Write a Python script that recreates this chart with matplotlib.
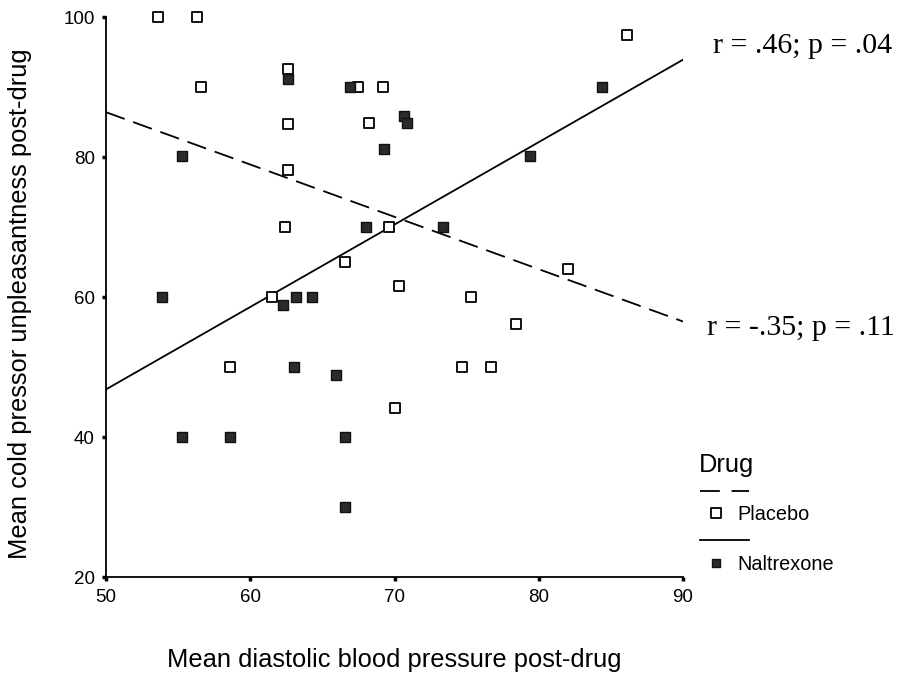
import numpy as np
import matplotlib
matplotlib.use("Agg")
import matplotlib.pyplot as plt
from matplotlib.markers import MarkerStyle
from matplotlib.lines import Line2D

plt.rcParams["font.family"] = ["Liberation Sans", "DejaVu Sans"]

# placebo (open squares)
placebo_x = [53.6, 56.3, 56.6, 62.6, 62.6, 62.6, 67.5, 69.2, 68.2, 86.1, 62.4,
             69.65, 66.6, 70.3, 61.5, 58.6, 75.3, 82.0, 78.4, 74.7, 76.7, 70.05]
placebo_y = [100, 100, 90, 92.6, 84.7, 78.2, 90, 90, 84.8, 97.5, 70,
             70, 65, 61.6, 60, 50, 60, 64, 56.2, 50, 50, 44.1]

# naltrexone (filled)
naltrexone_x = [62.6, 66.9, 70.65, 70.9, 69.25, 55.3, 84.4, 79.4, 68.0, 53.9,
                62.3, 63.2, 64.3, 63.0, 65.95, 73.35, 55.3, 58.6, 66.6, 66.6]
naltrexone_y = [91.2, 90, 85.9, 84.8, 81.2, 80.1, 90, 80.1, 70, 60,
                58.9, 60, 60, 50, 48.8, 70, 40, 40, 40, 30]

# fit lines (value at x = 50 and x = 90)
fit_x = [50, 90]
placebo_fit = [86.4, 56.5]
naltrexone_fit = [46.8, 93.9]

W, H = 898, 677
fig = plt.figure(figsize=(W / 100, H / 100), dpi=100)
ax = fig.add_axes([106 / W, 1 - 577 / H, (683 - 106) / W, (577 - 17) / H])

sq = MarkerStyle("s", joinstyle="round")
ax.plot(fit_x, placebo_fit, color="black", linewidth=1.3, dashes=(11, 5))
ax.plot(fit_x, naltrexone_fit, color="black", linewidth=1.3)
ax.plot(placebo_x, placebo_y, linestyle="none", marker=sq, markersize=7.5,
        markerfacecolor="white", markeredgecolor="black", markeredgewidth=1.3,
        clip_on=False, zorder=3)
ax.plot(naltrexone_x, naltrexone_y, linestyle="none", marker=sq, markersize=7.2,
        markerfacecolor="#2b2b2b", markeredgecolor="#111111", markeredgewidth=1.0,
        clip_on=False, zorder=3)

ax.set_xlim(50, 90)
ax.set_ylim(20, 100)
ax.set_xticks([50, 60, 70, 80, 90])
ax.set_yticks([20, 40, 60, 80, 100])
ax.spines["right"].set_visible(False)
ax.spines["top"].set_visible(False)
ax.spines["left"].set_linewidth(1.3)
ax.spines["bottom"].set_linewidth(1.3)
ax.tick_params(direction="out", length=3, width=2.5, labelsize=13.5)
ax.tick_params(axis="y", pad=5)
ax.tick_params(axis="x", pad=6)

ax.set_xlabel("Mean diastolic blood pressure post-drug", fontsize=18.4, labelpad=30)
ax.set_ylabel("Mean cold pressor unpleasantness post-drug", fontsize=18.4)
ax.yaxis.set_label_coords(-0.128, 0.4875)

# fit annotations
fig.text(713 / W, 1 - 46 / H, "r = .46; p = .04", family="Liberation Serif",
         fontsize=21.5, va="center", ha="left")
fig.text(707 / W, 1 - 328 / H, "r = -.35; p = .11", family="Liberation Serif",
         fontsize=21.5, va="center", ha="left")

# legend drawn by hand
fig.text(699 / W, 1 - 465 / H, "Drug", fontsize=18.3, va="center", ha="left")
fig.add_artist(Line2D([700 / W, 749 / W], [1 - 491 / H] * 2, color="black",
                      linewidth=1.3, dashes=(11, 6.5), transform=fig.transFigure))
fig.add_artist(Line2D([716 / W], [1 - 513 / H], marker=sq, markersize=6.5,
                      markerfacecolor="white", markeredgecolor="black",
                      markeredgewidth=1.3, transform=fig.transFigure))
fig.text(737 / W, 1 - 515 / H, "Placebo", fontsize=14.3, va="center", ha="left")
fig.add_artist(Line2D([700 / W, 749 / W], [1 - 540 / H] * 2, color="black",
                      linewidth=1.3, transform=fig.transFigure))
fig.add_artist(Line2D([716 / W], [1 - 563 / H], marker=sq, markersize=6.2,
                      markerfacecolor="#2b2b2b", markeredgecolor="#111111",
                      markeredgewidth=1.0, transform=fig.transFigure))
fig.text(737 / W, 1 - 565 / H, "Naltrexone", fontsize=14.3, va="center", ha="left")

fig.savefig("out.png", dpi=100)
